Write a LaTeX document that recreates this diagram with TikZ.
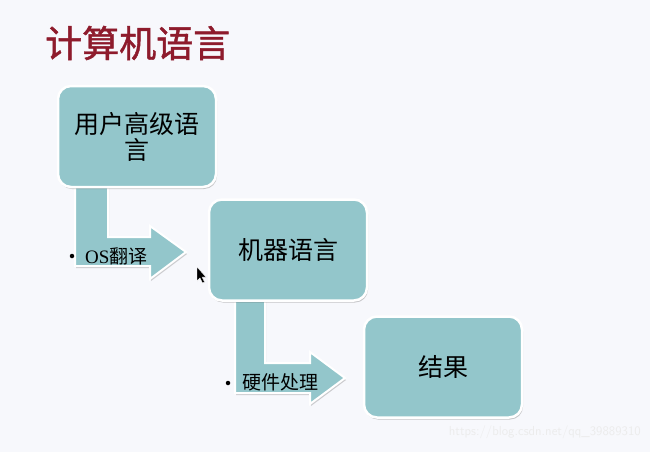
\documentclass[tikz,border=0pt]{standalone}
\usepackage{fontspec}
\setmainfont{Liberation Serif}
\newfontfamily\cjk{Noto Sans CJK SC}
\newfontfamily\cjktitle[FakeBold=1.2]{Noto Sans CJK SC}
\usetikzlibrary{shadows}
\pgfdeclarelayer{background}
\pgfsetlayers{background,main}
\definecolor{bgc}{HTML}{F7F8FC}
\definecolor{teal}{HTML}{93C6CB}
\definecolor{titlered}{HTML}{8E1B2C}
\tikzset{
  box/.style={draw=white, line width=2.5pt, fill=teal, rounded corners=13pt,
    minimum width=158, minimum height=101, align=center, inner sep=4pt,
    font=\cjk\fontsize{25}{29}\selectfont,
    drop shadow={shadow xshift=1pt, shadow yshift=-2pt, opacity=0.35, fill=black!60}},
  bentarrow/.style={draw=white, line width=2pt, fill=teal, line join=miter,
    drop shadow={shadow xshift=1pt, shadow yshift=-2pt, opacity=0.3, fill=black!60}},
  label/.style={font=\fontsize{19}{22}\selectfont, inner sep=0pt, anchor=west},
  bullet/.style={circle, fill=black, inner sep=0pt, minimum size=4.5pt}
}
\begin{document}
\begin{tikzpicture}[x=1pt,y=-1pt]
\useasboundingbox (0,0) rectangle (650,452);
\node[font=\cjktitle\fontsize{37}{40}\selectfont, text=titlered, anchor=west, inner sep=0pt] (title) at (45,43) {计算机语言};
\node[box] (b1) at (137,136.5) {用户高级语\\[-3pt]言};
\node[box] (b2) at (288,250) {机器语言};
\node[box] (b3) at (443,367) {结果};
\begin{pgfonlayer}{background}
\fill[bgc] (0,0) rectangle (650,452);
\draw[bentarrow] (75,180) -- (75,266) -- (150,266) -- (150,279) -- (186,252)
  -- (150,226) -- (150,237) -- (108,237) -- (108,180) -- cycle;
\draw[bentarrow] (235,295) -- (235,393) -- (310,393) -- (310,404) -- (345,378)
  -- (310,352) -- (310,363) -- (265,363) -- (265,295) -- cycle;
\end{pgfonlayer}
\node[bullet] (d1) at (72,256) {};
\node[label] (l1) at (85,256) {OS{\cjk 翻译}};
\node[bullet] (d2) at (228,383) {};
\node[label] (l2) at (242,382) {\cjk 硬件处理};
\draw[fill=black, draw=white, line width=0.4pt] (197,267) -- (197,281) -- (200,278) -- (202.5,283) -- (204.5,282) -- (202,277) -- (206,277) -- cycle;
\node[anchor=east, inner sep=0pt, text=white!85!gray, font=\fontsize{13}{15}\selectfont\sffamily] (wm) at (641,432) {https://blog.csdn.net/qq\_39889310};
\end{tikzpicture}
\end{document}
